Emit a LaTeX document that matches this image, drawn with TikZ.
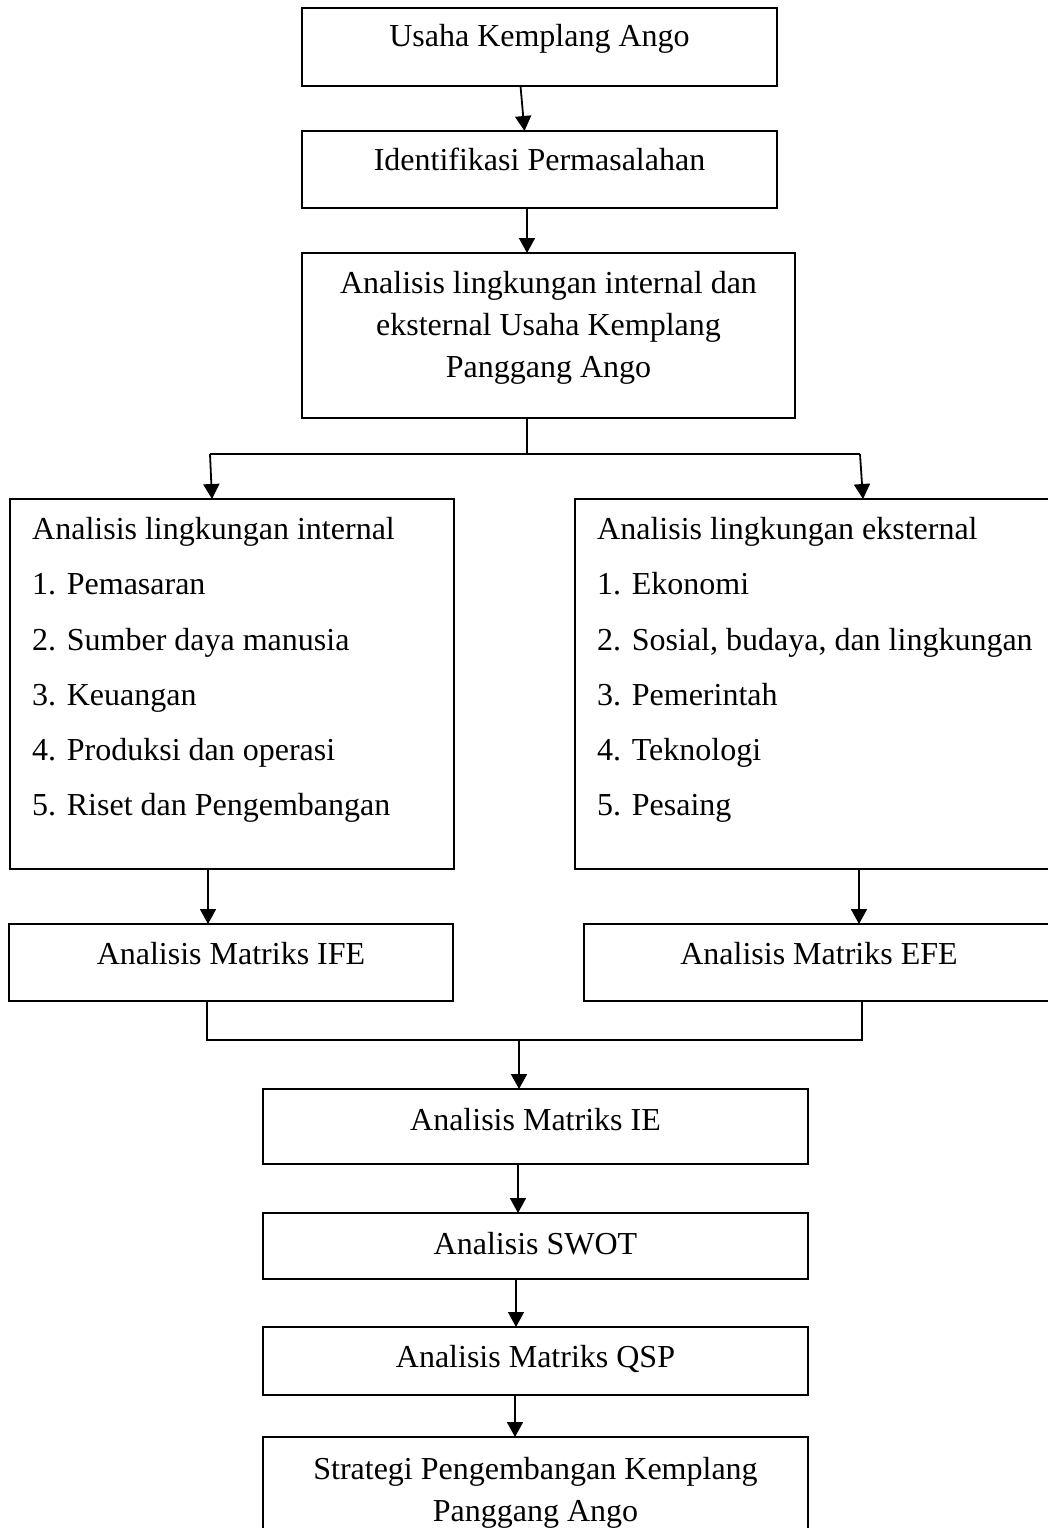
\documentclass[tikz,border=0pt]{standalone}
\usepackage{fontspec}
\setmainfont{Liberation Serif}
\usetikzlibrary{arrows.meta,calc}
\begin{document}
\begin{tikzpicture}[x=1pt,y=-1pt,
  box/.style={draw=black, line width=2.2pt, inner sep=0pt, outer sep=0pt},
  txt/.style={anchor=base, inner sep=0pt, font=\fontsize{32}{38}\selectfont},
  ltxt/.style={anchor=base west, inner sep=0pt, font=\fontsize{32}{38}\selectfont},
  conn/.style={line width=1.8pt},
  arr/.style={conn, -{Triangle[length=15pt,width=16pt]}}]
\fill[white, use as bounding box] (0,0) rectangle (1047,1528);

% boxes
\node[box, minimum width=475pt, minimum height=78pt] (b1) at (539.5,47) {};
\node[box, minimum width=475pt, minimum height=77pt] (b2) at (539.5,169.5) {};
\node[box, minimum width=493pt, minimum height=165pt] (b3) at (548.5,335.5) {};
\node[box, minimum width=444pt, minimum height=370pt] (bl) at (232,684) {};
\node[box, minimum width=479pt, minimum height=370pt] (br) at (814.5,684) {};
\node[box, minimum width=444pt, minimum height=77pt] (bi) at (231,962.5) {};
\node[box, minimum width=470pt, minimum height=77pt] (be) at (819,962.5) {};
\node[box, minimum width=545pt, minimum height=75pt] (bie) at (535.5,1126.5) {};
\node[box, minimum width=545pt, minimum height=66pt] (bs) at (535.5,1246) {};
\node[box, minimum width=545pt, minimum height=68pt] (bq) at (535.5,1361) {};
\node[box, minimum width=545pt, minimum height=123pt] (bf) at (535.5,1498.5) {};

% texts
\node[txt] (t1) at (539.5,47) {Usaha Kemplang Ango};
\node[txt] (t2) at (539.5,170) {Identifikasi Permasalahan};
\node[txt] (t3a) at (548.5,293) {Analisis lingkungan internal dan};
\node[txt] (t3b) at (548.5,335) {eksternal Usaha Kemplang};
\node[txt] (t3c) at (548.5,377) {Panggang Ango};

\node[ltxt] (l0) at (32,539) {Analisis lingkungan internal};
\node[ltxt] (l1) at (32,594) {1. Pemasaran};
\node[ltxt] (l2) at (32,650) {2. Sumber daya manusia};
\node[ltxt] (l3) at (32,705) {3. Keuangan};
\node[ltxt] (l4) at (32,760) {4. Produksi dan operasi};
\node[ltxt] (l5) at (32,815) {5. Riset dan Pengembangan};

\node[ltxt] (r0) at (597,539) {Analisis lingkungan eksternal};
\node[ltxt] (r1) at (597,594) {1. Ekonomi};
\node[ltxt] (r2) at (597,650) {2. Sosial, budaya, dan lingkungan};
\node[ltxt] (r3) at (597,705) {3. Pemerintah};
\node[ltxt] (r4) at (597,760) {4. Teknologi};
\node[ltxt] (r5) at (597,815) {5. Pesaing};

\node[txt] (ti) at (231,964) {Analisis Matriks IFE};
\node[txt] (te) at (819,964) {Analisis Matriks EFE};
\node[txt] (tie) at (535.5,1130) {Analisis Matriks IE};
\node[txt] (ts) at (535.5,1254) {Analisis SWOT};
\node[txt] (tq) at (535.5,1367) {Analisis Matriks QSP};
\node[txt] (tfa) at (535.5,1479) {Strategi Pengembangan Kemplang};
\node[txt] (tfb) at (535.5,1521) {Panggang Ango};

% connectors
\coordinate (sp) at (527,454);
\coordinate (spl) at (210,454);
\coordinate (spr) at (860,454);
\coordinate (mg) at (519,1040);

\draw[arr] ([xshift=-19pt]b1.south) -- ([xshift=-15pt]b2.north);
\draw[arr] ([xshift=-12.5pt]b2.south) -- ([xshift=-21.5pt]b3.north);
\draw[conn] ([xshift=-21.5pt]b3.south) -- (sp);
\draw[conn] (spl) -- (spr);
\draw[arr] (spl) -- ([xshift=-20pt]bl.north);
\draw[arr] (spr) -- ([xshift=48.5pt]br.north);
\draw[arr] ([xshift=-24pt]bl.south) -- ([xshift=-23pt]bi.north);
\draw[arr] ([xshift=44.5pt]br.south) -- ([xshift=40pt]be.north);
\draw[conn] ([xshift=-24pt]bi.south) |- (mg) -| ([xshift=43pt]be.south);
\draw[arr] (mg) -- ([xshift=-16.5pt]bie.north);
\draw[arr] ([xshift=-17.5pt]bie.south) -- ([xshift=-17.5pt]bs.north);
\draw[arr] ([xshift=-19.5pt]bs.south) -- ([xshift=-19.5pt]bq.north);
\draw[arr] ([xshift=-20.5pt]bq.south) -- ([xshift=-20.5pt]bf.north);
\end{tikzpicture}
\end{document}
